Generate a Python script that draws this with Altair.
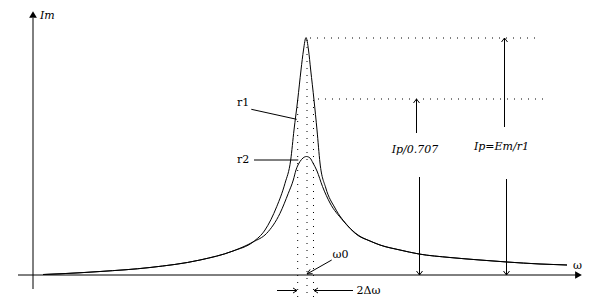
import altair as alt
import pandas as pd

# ---- data (x: omega offset from origin, y: current above axis) ----
tail_left_x = [10, 27, 67, 117, 167, 200, 220]
tail_left_y = [0.5, 1.2, 3.5, 7.5, 15, 24, 33]

r1_mid_x = [232, 243.7, 252, 257.7, 261, 264.7, 268, 270.5, 273, 275.5, 277.7, 281, 284, 287, 292.8, 302, 315, 325]
r1_mid_y = [45, 68.3, 91.7, 115, 145, 175, 205, 225, 237.5, 225, 205, 175, 145, 112, 87, 67, 49, 40]

r2_mid_x = [233.7, 247, 255.3, 260.3, 263, 267, 270, 273.5, 277, 280, 284, 289.5, 297, 309.5, 325]
r2_mid_y = [41.7, 61.7, 81.7, 95, 105, 113.5, 117, 118.5, 117, 112, 104, 88.5, 72, 55, 39.5]

tail_right_x = [337, 347, 367, 386, 417, 447, 474, 507, 534]
tail_right_y = [34, 30, 25, 21, 17.5, 15, 13, 11, 10]

# dotted guide lines: x, y, x2, y2
dot_x = [264.7, 274, 280.5, 277, 285]
dot_y = [175, 235, 175, 237, 176]
dot_x2 = [264.7, 274, 280.5, 504, 511]
dot_y2 = [-22, -22, -22, 237, 176]

# solid segments: axes, leaders, dimension arrows and arrowheads
seg_x = [0, -15, 218.3, 221, 298.7, 274, 274,
         383.5, 383.5, 383.5, 386.5, 386.5, 386.5,
         471.5, 471.5, 471.5, 473.5, 473.5, 473.5,
         244, 264, 264, 320, 281, 281]
seg_y = [-14, 0, 165.7, 115, 15, 1, 1,
         142, 176, 176, 98, 0, 0,
         148, 237, 237, 96, 0, 0,
         -15.5, -15.5, -15.5, -15.5, -15.5, -15.5]
seg_x2 = [0, 543, 263.7, 265.3, 274, 277.1, 279.6,
          383.5, 380.5, 386.5, 386.5, 383.5, 389.5,
          471.5, 468.5, 474.5, 473.5, 470.5, 476.5,
          264, 260, 260, 281, 285, 285]
seg_y2 = [257, 0, 155.7, 115, 1, 5.6, 1.3,
          176, 172, 172, 0, 4, 4,
          237, 233, 233, 0, 4, 4,
          -15.5, -13, -18, -15.5, -13, -18]

# axis arrow tips
tip_x = [0, 545.5]
tip_y = [260.5, 0]

# labels
lab_text = ["r1", "r2", "ω0", "2Δω", "ω"]
lab_x = [204, 204, 299.5, 323.5, 540]
lab_y = [172, 115, 20.5, -15.5, 9.5]

ital_text = ["Im", "Ip/0.707", "Ip=Em/r1"]
ital_x = [7, 382, 468.5]
ital_y = [259, 125, 128]

# ---- build tables ----
rows = []
for name, mx, my in [("r1", r1_mid_x, r1_mid_y), ("r2", r2_mid_x, r2_mid_y)]:
    xs_ = tail_left_x + mx + tail_right_x
    ys_ = tail_left_y + my + tail_right_y
    for i, (a, b) in enumerate(zip(xs_, ys_)):
        rows.append({"series": name, "i": i, "x": a, "y": b})
curves = pd.DataFrame(rows)

dots = pd.DataFrame({"x": dot_x, "y": dot_y, "x2": dot_x2, "y2": dot_y2})
segs = pd.DataFrame({"x": seg_x, "y": seg_y, "x2": seg_x2, "y2": seg_y2})
tips = pd.DataFrame({"x": tip_x, "y": tip_y})
labs = pd.DataFrame({"t": lab_text, "x": lab_x, "y": lab_y})
itals = pd.DataFrame({"t": ital_text, "x": ital_x, "y": ital_y})

FONT = "DejaVu Serif"

xs = alt.Scale(domain=[-33, 567], nice=False, zero=False)
ys = alt.Scale(domain=[-25, 275], nice=False, zero=False)
X = alt.X("x:Q", scale=xs, axis=None)
Y = alt.Y("y:Q", scale=ys, axis=None)

line_layer = alt.Chart(curves).mark_line(
    color="black", strokeWidth=1, interpolate="monotone"
).encode(x=X, y=Y, detail="series:N", order="i:Q")
dot_layer = alt.Chart(dots).mark_rule(color="black", strokeWidth=1, strokeDash=[1, 6]).encode(
    x=X, y=Y, x2="x2:Q", y2="y2:Q"
)
seg_layer = alt.Chart(segs).mark_rule(color="black", strokeWidth=1).encode(
    x=X, y=Y, x2="x2:Q", y2="y2:Q"
)
tip_up = alt.Chart(tips.iloc[[0]]).mark_point(
    shape="triangle-up", filled=True, color="black", size=60, opacity=1
).encode(x=X, y=Y)
tip_right = alt.Chart(tips.iloc[[1]]).mark_point(
    shape="triangle-right", filled=True, color="black", size=60, opacity=1
).encode(x=X, y=Y)
lab_layer = alt.Chart(labs).mark_text(
    align="left", baseline="middle", font=FONT, fontSize=11, color="black"
).encode(x=X, y=Y, text="t:N")
ital_left = alt.Chart(itals.iloc[[0]]).mark_text(
    align="left", baseline="middle", font=FONT, fontStyle="italic", fontSize=11, color="black"
).encode(x=X, y=Y, text="t:N")
ital_center = alt.Chart(itals.iloc[1:]).mark_text(
    align="center", baseline="middle", font=FONT, fontStyle="italic", fontSize=11, color="black"
).encode(x=X, y=Y, text="t:N")

chart = alt.layer(
    dot_layer, seg_layer, line_layer, tip_up, tip_right, lab_layer, ital_left, ital_center
).properties(
    width=600, height=300, padding=0, autosize=alt.AutoSizeParams(type="none"),
    background="white"
).configure_view(stroke=None)

chart.save("out.html", embed_options={"renderer": "svg", "actions": False})
